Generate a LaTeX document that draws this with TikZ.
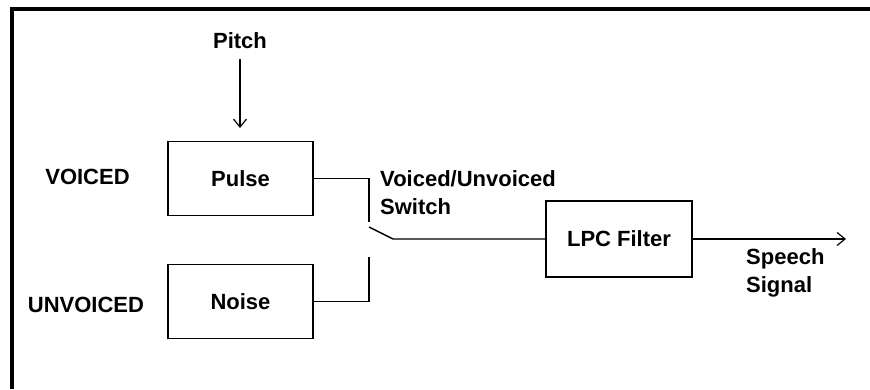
\documentclass[tikz,border=0pt]{standalone}
\usepackage{fontspec}
\setmainfont{Liberation Sans}
\usetikzlibrary{arrows.meta}

\begin{document}
\begin{tikzpicture}[x=1pt, y=-1pt,
    font=\fontsize{22}{28.5}\selectfont\bfseries,
    block/.style={draw, line width=1.4pt, minimum width=145pt, minimum height=74pt, inner sep=0pt},
    lbl/.style={inner sep=0pt},
    wire/.style={line width=1.4pt},
    tip/.style={-{Straight Barb[length=8pt, width=13pt, line width=1.2pt]}}]
  \useasboundingbox (0,0) rectangle (870,389);
  % --- frame: top and left edges only ---
  \fill (10,7) rectangle (870,11);
  \fill (10,7) rectangle (14,389);
  % --- sources ---
  \node[lbl] (pitch) at (240,41) {Pitch};
  \node[block] (pulse) at (240.5,178.5) {Pulse};
  \node[block] (noise) at (240.5,301.5) {Noise};
  \node[lbl] (voiced) at (87.5,177) {VOICED};
  \node[lbl] (unvoiced) at (86,305) {UNVOICED};
  \coordinate (pitchtip) at (240,128);
  \draw[wire, tip] (pitch.south) ++(0,10) -- (pitchtip);
  % --- switch ---
  \coordinate (swup) at (369,222);
  \coordinate (swdn) at (369,257);
  \coordinate (swpivot) at (369,227);
  \coordinate (swblade) at (393,239);
  \node[lbl, anchor=west, align=left] (swlbl) at (380,192.5) {Voiced/Unvoiced\\Switch};
  \draw[wire] (pulse.east) -| (swup);
  \draw[wire] (noise.east) -| (swdn);
  % --- filter and output ---
  \node[block, minimum width=146pt, minimum height=76pt] (lpc) at (619,239) {LPC Filter};
  \draw[wire] (swpivot) -- (swblade) -- (lpc.west);
  \coordinate (out) at (846,239);
  \draw[wire, tip] (lpc.east) -- (out);
  \node[lbl, anchor=west, align=left] (speech) at (746,273) {Speech\\Signal};
\end{tikzpicture}
\end{document}
